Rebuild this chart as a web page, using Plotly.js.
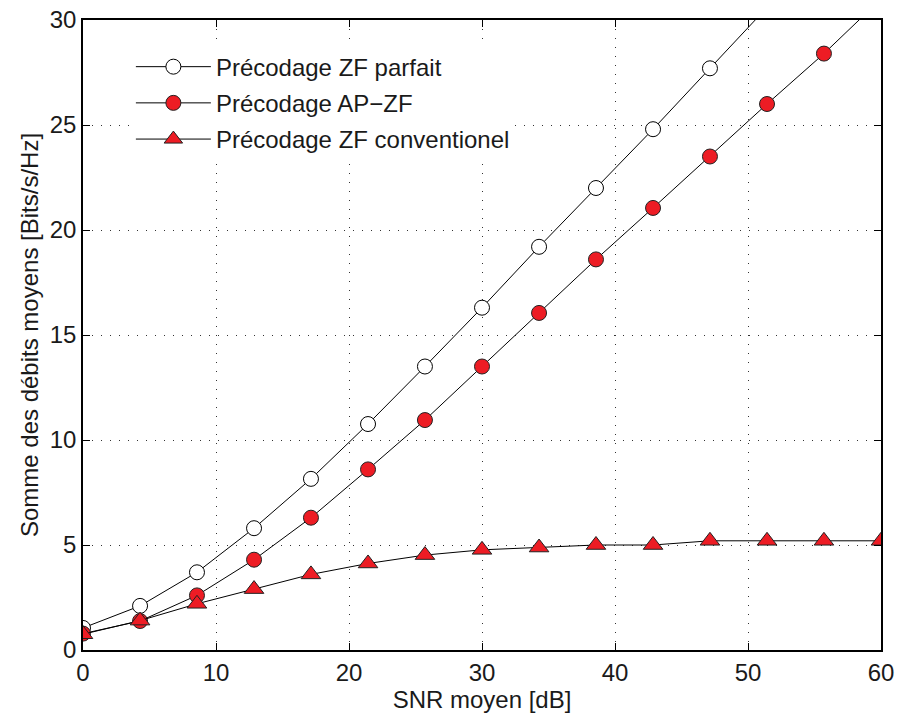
<!DOCTYPE html>
<html>
<head>
<meta charset="utf-8">
<script src="https://cdn.plot.ly/plotly-3.0.1.min.js"></script>
<style>html,body{margin:0;padding:0;background:#fff;}#chart{width:901px;height:718px;}</style>
</head>
<body>
<div id="chart"></div>
<script>
const snr = [0, 4.29, 8.57, 12.86, 17.14, 21.43, 25.71, 30, 34.29, 38.57, 42.86, 47.14, 51.43, 55.71, 60];
const zfParfait = [1.05, 2.1, 3.7, 5.8, 8.15, 10.76, 13.5, 16.3, 19.2, 22.0, 24.8, 27.7, 30.6];
const apZf = [0.78, 1.38, 2.6, 4.3, 6.3, 8.6, 10.95, 13.5, 16.05, 18.6, 21.05, 23.5, 26.0, 28.4, 31.0];
const zfConv = [0.75, 1.4, 2.2, 2.9, 3.6, 4.12, 4.52, 4.77, 4.88, 5.0, 5.0, 5.2, 5.2, 5.2, 5.2];
const names = ["Précodage ZF parfait", "Précodage AP\u2212ZF", "Précodage ZF conventionel"];
const xTicks = [0, 10, 20, 30, 40, 50, 60];
const yTicks = [0, 5, 10, 15, 20, 25, 30];

const red = "#ED1C24";
const traces = [
  {x: snr.slice(0, zfParfait.length), y: zfParfait, name: names[0], legendgroup: "a", mode: "lines+markers",
   line: {color: "#000", width: 1},
   marker: {symbol: "circle", size: 15, color: "#fff", line: {color: "#000", width: 1}}},
  {x: snr, y: apZf, name: names[1], legendgroup: "b", mode: "lines+markers",
   line: {color: "#000", width: 1},
   marker: {symbol: "circle", size: 15, color: red, line: {color: "#222", width: 1}}},
  {x: snr, y: zfConv, name: names[2], legendgroup: "c", mode: "lines+markers",
   line: {color: "#000", width: 1},
   marker: {symbol: "triangle-up", size: 17, color: red, line: {color: "#222", width: 1}}}
];
const fontFam = "Liberation Sans, Arial, sans-serif";
const axisCommon = {
  showline: true, mirror: "ticks", linecolor: "#000", linewidth: 1.5,
  ticks: "inside", ticklen: 7, tickcolor: "#000",
  showgrid: true, gridcolor: "#333", griddash: "1px,8px", gridwidth: 1,
  zeroline: false, tickfont: {family: fontFam, size: 24, color: "#1a1a1a"}
};
const layout = {
  width: 901, height: 718,
  margin: {l: 83, r: 20, t: 20, b: 68},
  paper_bgcolor: "#fff", plot_bgcolor: "#fff",
  font: {family: fontFam, color: "#1a1a1a"},
  xaxis: Object.assign({}, axisCommon, {range: [0, 60], tickvals: xTicks,
    title: {text: "SNR moyen [dB]", font: {size: 24}, standoff: 4}}),
  yaxis: Object.assign({}, axisCommon, {range: [0, 30], tickvals: yTicks,
    title: {text: "Somme des débits moyens [Bits/s/Hz]", font: {size: 24}, standoff: 4}}),
  showlegend: true,
  legend: {x: 0.06, y: 0.961, xanchor: "left", yanchor: "top", bgcolor: "#fff",
    borderwidth: 0, font: {size: 24, color: "#1a1a1a"}, itemwidth: 75, tracegroupgap: 2}
};
Plotly.newPlot("chart", traces, layout, {displayModeBar: false});
</script>
</body>
</html>
